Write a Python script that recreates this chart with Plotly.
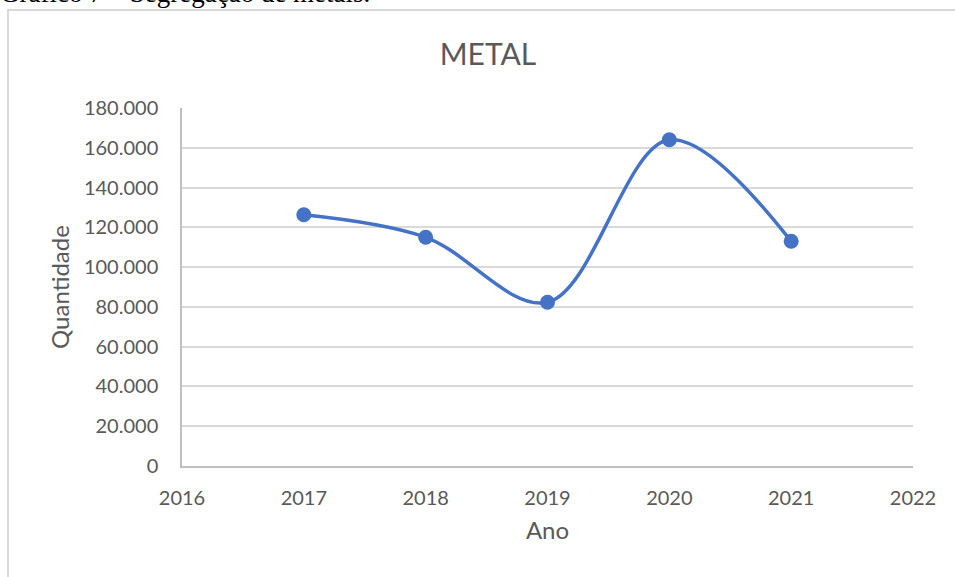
import plotly.graph_objects as go

anos = [2017, 2018, 2019, 2020, 2021]
quantidade = [126300, 115000, 82300, 164000, 113000]
y_ticks = [0, 20000, 40000, 60000, 80000, 100000, 120000, 140000, 160000, 180000]
y_tick_labels = ["0", "20.000", "40.000", "60.000", "80.000", "100.000",
                 "120.000", "140.000", "160.000", "180.000"]

W, H = 955, 577
L, R, T, B = 182, 42, 108, 111
pw, ph = W - L - R, H - T - B

def px_x(px):
    return (px - L) / pw

def px_y(py):
    return (H - B - py) / ph

grey = "#595959"
font = "Lato"

fig = go.Figure()
fig.add_trace(go.Scatter(
    x=anos, y=quantidade, mode="lines+markers",
    line=dict(color="#4472C4", width=3.5, shape="spline", smoothing=1.0),
    marker=dict(color="#4472C4", size=15),
    showlegend=False, cliponaxis=False,
))

fig.update_layout(
    width=W, height=H,
    margin=dict(l=L, r=R, t=T, b=B),
    paper_bgcolor="white", plot_bgcolor="white",
    font=dict(family=font, color=grey, size=20),
    title=dict(text="METAL", x=488 / W, xref="container", xanchor="center",
               y=1 - 54 / H, yanchor="middle",
               font=dict(size=30, color=grey, family=font)),
    xaxis=dict(range=[2016, 2022], dtick=1, tick0=2016, showgrid=False,
               showline=True, linecolor="#bfbfbf", linewidth=1.5,
               ticks="", ticklabelstandoff=13, zeroline=False,
               title=dict(text="Ano", font=dict(size=24, color=grey), standoff=14),
               tickfont=dict(size=20, color=grey)),
    yaxis=dict(range=[0, 180000], tickvals=y_ticks, ticktext=y_tick_labels,
               showgrid=True, gridcolor="#d9d9d9", gridwidth=1.5,
               showline=True, linecolor="#bfbfbf", linewidth=1.5,
               ticks="", ticklabelstandoff=18, zeroline=False,
               title=dict(text="Quantidade", font=dict(size=24, color=grey), standoff=8),
               tickfont=dict(size=20, color=grey)),
    shapes=[dict(type="rect", xref="paper", yref="paper",
                 x0=px_x(8), x1=px_x(W + 20), y0=px_y(H + 20), y1=px_y(10),
                 line=dict(color="#d9d9d9", width=2), fillcolor="rgba(0,0,0,0)",
                 layer="below")],
    annotations=[dict(text="Gráfico 7 – Segregação de metais.",
                      xref="paper", yref="paper", x=px_x(-2), y=px_y(-7),
                      xanchor="left", yanchor="middle", showarrow=False,
                      font=dict(family="Liberation Serif", size=27, color="black"))],
)

fig.write_html("out.html")
